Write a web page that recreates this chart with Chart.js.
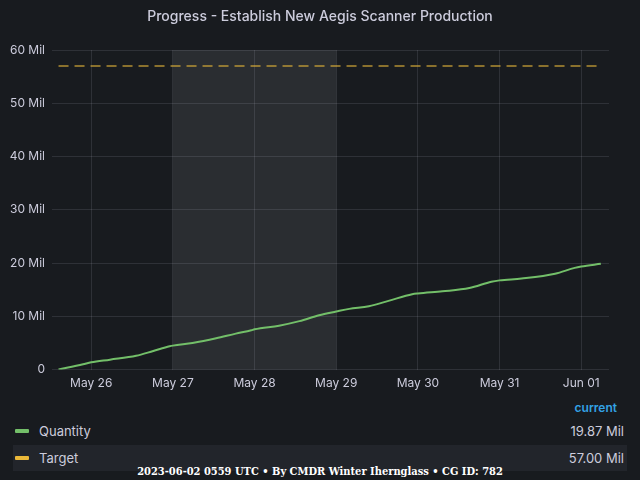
<!DOCTYPE html>
<html>
<head>
<meta charset="utf-8">
<script src="https://cdn.jsdelivr.net/npm/chart.js@4.4.0/dist/chart.umd.min.js"></script>
<style>
  html, body { margin: 0; padding: 0; background: #181b1f; }
  body { width: 640px; height: 480px; position: relative; overflow: hidden; font-family: Inter, "Noto Sans", sans-serif; color: #ccccdc; }
  #wrap { position: absolute; left: 0; top: 0; width: 640px; height: 400px; }
  #title { position: absolute; left: 0; top: 7px; width: 640px; text-align: center; font-size: 14px; font-weight: 500; color: #ccccdc; }
  .legend-head { position: absolute; right: 23px; top: 400px; font-size: 12px; font-weight: 600; color: #33a2e5; }
  .row { position: absolute; left: 13px; width: 614px; height: 26px; font-size: 13px; line-height: 26px; }
  .row .sw { position: absolute; left: 2px; top: 11px; width: 14px; height: 4px; border-radius: 1px; }
  .row .name { position: absolute; left: 26px; }
  .row .val { position: absolute; right: 3px; }
  #footer { position: absolute; left: 0; width: 640px; top: 465px; text-align: center; font-family: "DejaVu Serif Condensed", "DejaVu Serif", serif; font-weight: bold; font-size: 11px; color: #ffffff; }
</style>
</head>
<body>
<div id="wrap"><canvas id="graph0"></canvas></div>
<div id="title">Progress - Establish New Aegis Scanner Production</div>
<div class="legend-head">current</div>
<div class="row" style="top:418px;"><span class="sw" style="background:#73bf69;"></span><span class="name">Quantity</span><span class="val" id="val_q"></span></div>
<div class="row" style="top:445px; background:#22252b;"><span class="sw" style="background:#eab839;"></span><span class="name">Target</span><span class="val" id="val_t"></span></div>
<div id="footer">2023-06-02 0559 UTC • By CMDR Winter Iherngl­ass • CG ID: 782</div>

<script>
// 日付は5月25日 00:00からの経過日数、値は百万(Mil)単位
var DAYS     = [0.60, 0.90, 1.00, 1.23, 1.55, 1.76, 1.96, 2.00, 2.24, 2.53, 2.77, 2.96, 3.00, 3.30, 3.55, 3.79,
                4.00, 4.16, 4.40, 4.64, 4.93, 5.00, 5.30, 5.63, 5.90, 6.00, 6.27, 6.68, 6.92, 7.00, 7.24];
var QUANTITY = [0.00, 1.00, 1.37, 1.87, 2.60, 3.50, 4.37, 4.50, 5.00, 5.87, 6.75, 7.37, 7.56, 8.25, 9.10, 10.20,
                10.90, 11.40, 11.90, 12.90, 14.15, 14.30, 14.70, 15.30, 16.50, 16.75, 17.10, 18.00, 19.10, 19.35, 19.87];
var TARGET_DAYS  = [0.60, 7.24];
var TARGET       = [57, 57];
var X_TICK_DAYS   = [1, 2, 3, 4, 5, 6, 7];
var X_TICK_LABELS = ["May 26", "May 27", "May 28", "May 29", "May 30", "May 31", "Jun 01"];
var Y_TICKS       = [0, 10, 20, 30, 40, 50, 60];
var SHADE         = [2, 4];   // 5月27日〜5月29日の網掛け
var CURRENT       = {"Quantity": 19.87, "Target": 57.00};

var CHART0 = null;

window.addEventListener("load", function(){
    document.getElementById("val_q").textContent = CURRENT["Quantity"].toFixed(2) + " Mil";
    document.getElementById("val_t").textContent = CURRENT["Target"].toFixed(2) + " Mil";
    draw_graph();
});

//網掛け範囲の描画
var shadePlugin = {
    id: "shade",
    beforeDatasetsDraw: function(chart){
        let ctx  = chart.ctx;
        let xs   = chart.scales.x;
        let area = chart.chartArea;
        let x0 = xs.getPixelForValue(SHADE[0]);
        let x1 = xs.getPixelForValue(SHADE[1]);
        ctx.save();
        ctx.fillStyle = "rgba(204,204,220,0.10)";
        ctx.fillRect(x0, area.top, x1 - x0, area.bottom - area.top);
        ctx.restore();
    }
};

function draw_graph(){
    let ctx0 = document.getElementById("graph0");
    let grid = "rgba(204,204,220,0.13)";

    if (CHART0) { CHART0.destroy(); }

    CHART0 = new Chart(ctx0, {
        type: "line",
        data: {
            datasets: [
                {
                    label: "Quantity",
                    data: DAYS.map(function(d, i){ return {x: d, y: QUANTITY[i]}; }),
                    borderColor: "#73bf69",
                    borderWidth: 2,
                    pointRadius: 0,
                    cubicInterpolationMode: "monotone",
                    fill: false
                },
                {
                    label: "Target",
                    data: TARGET_DAYS.map(function(d, i){ return {x: d, y: TARGET[i]}; }),
                    borderColor: "rgba(234,184,57,0.55)",
                    borderWidth: 2,
                    borderDash: [10, 6],
                    pointRadius: 0,
                    fill: false
                }
            ]
        },
        options: {
            responsive: true,
            maintainAspectRatio: false,
            animation: false,
            layout: { padding: { left: 0, right: 31, top: 50, bottom: 2 } },
            plugins: {
                legend: { display: false },
                tooltip: { enabled: false }
            },
            scales: {
                x: {
                    type: "linear",
                    min: 0.52,
                    max: 7.34,
                    afterBuildTicks: function(scale){
                        scale.ticks = X_TICK_DAYS.map(function(v){ return {value: v}; });
                    },
                    ticks: {
                        color: "#ccccdc",
                        font: { family: "Inter", size: 12 },
                        padding: 7,
                        maxRotation: 0,
                        callback: function(v){ return X_TICK_LABELS[X_TICK_DAYS.indexOf(v)]; }
                    },
                    grid: { color: grid, drawTicks: false },
                    border: { display: false }
                },
                y: {
                    min: 0,
                    max: 60,
                    afterBuildTicks: function(scale){
                        scale.ticks = Y_TICKS.map(function(v){ return {value: v}; });
                    },
                    afterFit: function(scale){ scale.width = 52; },
                    ticks: {
                        color: "#ccccdc",
                        font: { family: "Inter", size: 12 },
                        padding: 7,
                        callback: function(v){ return v === 0 ? "0" : v + " Mil"; }
                    },
                    grid: { color: grid, drawTicks: false },
                    border: { display: false }
                }
            }
        },
        plugins: [shadePlugin]
    });
}
</script>
</body>
</html>
